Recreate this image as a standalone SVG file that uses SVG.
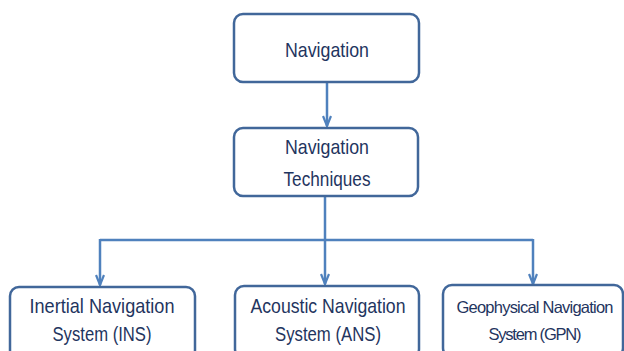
<svg xmlns="http://www.w3.org/2000/svg" width="624" height="351" viewBox="0 0 624 351">
<defs>
<style>
.box{fill:#ffffff;stroke:#41679a;stroke-width:2.5}
.t{font-family:"Liberation Sans",Arial,sans-serif;font-size:21px;fill:#1f3560;text-anchor:middle}
.ts{font-size:16.5px}
.c{fill:none;stroke:#4f81bd;stroke-width:2.5}
</style>
<marker id="ah" viewBox="0 0 12 10" refX="11" refY="5" markerWidth="12" markerHeight="10" markerUnits="userSpaceOnUse" orient="auto">
<path d="M1,1 L11,5 L1,9" fill="none" stroke="#4f81bd" stroke-width="2.2"/>
</marker>
</defs>
<rect width="624" height="351" fill="#ffffff"/>
<g id="connectors">
<path class="c" d="M327,82 V126" marker-end="url(#ah)"/>
<path class="c" d="M325,197 V284" marker-end="url(#ah)"/>
<path class="c" d="M100,240 H533"/>
<path class="c" d="M100,239 V285" marker-end="url(#ah)"/>
<path class="c" d="M533,239 V284" marker-end="url(#ah)"/>
</g>
<g id="navigation">
<rect class="box" x="234" y="14" width="185" height="68" rx="9"/>
<text class="t" x="327" y="57" textLength="84" lengthAdjust="spacingAndGlyphs">Navigation</text>
</g>
<g id="techniques">
<rect class="box" x="234" y="128" width="184" height="68" rx="9"/>
<text class="t" x="327" y="154" textLength="84" lengthAdjust="spacingAndGlyphs">Navigation</text>
<text class="t" x="327" y="186" textLength="87" lengthAdjust="spacingAndGlyphs">Techniques</text>
</g>
<g id="ins">
<rect class="box" x="10" y="287" width="185" height="72" rx="9"/>
<text class="t" x="102" y="313" textLength="145" lengthAdjust="spacingAndGlyphs">Inertial Navigation</text>
<text class="t" x="102" y="341" textLength="99" lengthAdjust="spacingAndGlyphs">System (INS)</text>
</g>
<g id="ans">
<rect class="box" x="235" y="286" width="184" height="72" rx="9"/>
<text class="t" x="328" y="313" textLength="155" lengthAdjust="spacingAndGlyphs">Acoustic Navigation</text>
<text class="t" x="328" y="341" textLength="106" lengthAdjust="spacingAndGlyphs">System (ANS)</text>
</g>
<g id="gpn">
<rect class="box" x="443" y="285" width="180" height="72" rx="9"/>
<text class="t ts" x="535" y="313" textLength="157">Geophysical Navigation</text>
<text class="t ts" x="535" y="340" textLength="93">System (GPN)</text>
</g>
</svg>
